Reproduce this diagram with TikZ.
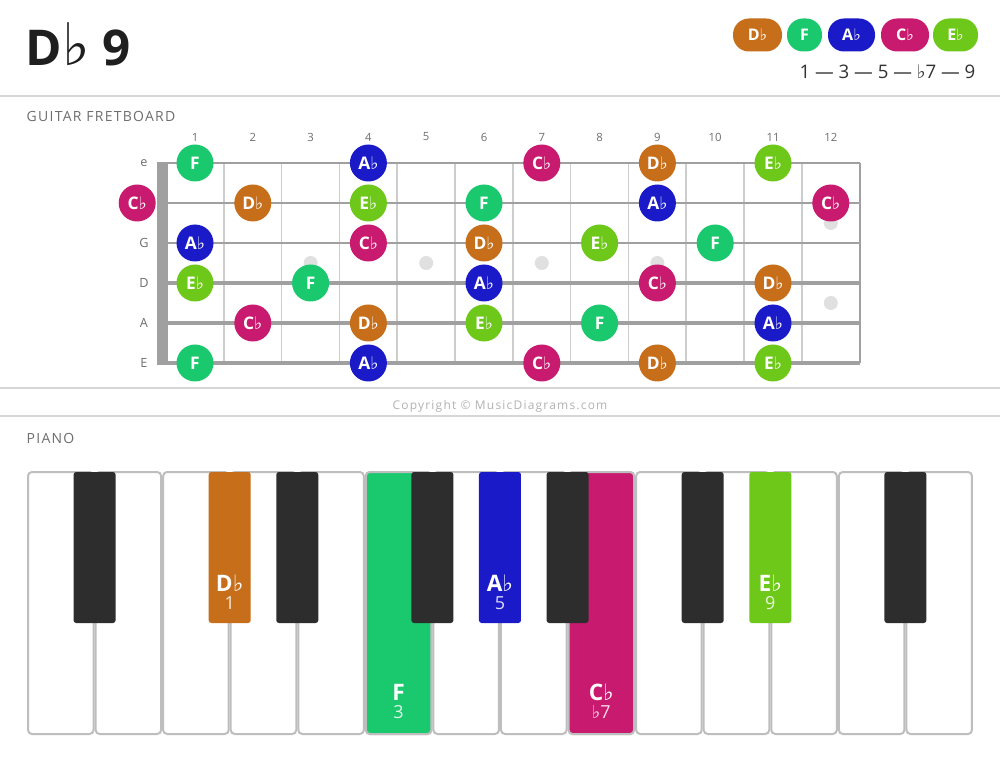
\documentclass[tikz,border=0pt]{standalone}
\usepackage{fontspec}
\setmainfont{Open Sans}
\newfontfamily\flatfont{DejaVu Sans}
\usetikzlibrary{positioning}

\definecolor{dflat}{RGB}{198,110,26}
\definecolor{fnat}{RGB}{26,200,110}
\definecolor{aflat}{RGB}{26,26,200}
\definecolor{cflat}{RGB}{200,26,110}
\definecolor{eflat}{RGB}{110,200,26}
\definecolor{rulegray}{RGB}{214,214,214}
\definecolor{stringgray}{RGB}{160,160,160}
\definecolor{fretgray}{RGB}{205,205,205}
\definecolor{dotgray}{RGB}{224,224,224}
\definecolor{labelgray}{RGB}{110,110,110}
\definecolor{bkey}{RGB}{45,45,45}
\definecolor{keyedge}{RGB}{190,190,190}

\newcommand{\fl}{{\flatfont\mdseries ♭}}

\begin{document}
\begin{tikzpicture}[x=0.75pt,y=-0.75pt,
  note/.style={circle,minimum size=27.75pt,inner sep=0pt,text=white,font=\bfseries\fontsize{13}{13}\selectfont},
  pill/.style={rounded corners=12pt,minimum height=24.75pt,inner sep=0pt,text=white,font=\bfseries\fontsize{12}{12}\selectfont},
  section/.style={anchor=base west,text=labelgray,font=\fontsize{10.5}{10.5}\selectfont\addfontfeatures{LetterSpace=9}},
  fretnum/.style={text=labelgray,font=\fontsize{8.5}{8.5}\selectfont},
  strname/.style={text=labelgray,font=\fontsize{9.5}{9.5}\selectfont},
  wkey/.style={draw=keyedge,line width=1.5pt,rounded corners=3pt},
  keyname/.style={text=white,font=\bfseries\fontsize{17}{17}\selectfont},
  keynum/.style={text=white,opacity=0.85,font=\fontsize{13.5}{13.5}\selectfont}]

  \useasboundingbox[fill=white] (0,0) rectangle (1000,759);

  % header
  \node[anchor=base west,text=black!88,font=\bfseries\fontsize{37}{37}\selectfont] (title) at (21,66) {D{\flatfont\mdseries\fontsize{44}{44}\selectfont ♭}\ 9};
  \foreach \n/\c/\x/\w in {D\fl/dflat/757.5/49, F/fnat/804.5/35, A\fl/aflat/851.5/47, C\fl/cflat/905/48, E\fl/eflat/955.5/45}
    \node[pill,fill=\c,minimum width=\w*0.75pt] (p\c) at (\x,35) {\n};
  \node[anchor=east,text=black!80,font=\fontsize{14}{14}\selectfont] (steps) at (980,72) {1 — 3 — 5 — \fl7 — 9};

  \draw[rulegray,line width=1.5pt] (0,96) -- (1000,96);
  \draw[rulegray,line width=1.5pt] (0,388) -- (1000,388);
  \draw[rulegray,line width=1.5pt] (0,416) -- (1000,416);
  \node[text=black!30,font=\fontsize{9}{9}\selectfont\addfontfeatures{LetterSpace=10}] (copy) at (500,406) {Copyright © MusicDiagrams.com};

  % fretboard
  \node[section] (gtr) at (22,122) {GUITAR FRETBOARD};
  \foreach \f in {1,...,12}
    \node[fretnum] (fn\f) at ({195+(\f-1)*57.8},137) {\f};
  \foreach \f in {1,...,11}
    \draw[fretgray,line width=1.2pt] ({166+\f*57.8},163) -- ({166+\f*57.8},363);
  \draw[stringgray,line width=1.2pt] (860,163) -- (860,363);
  \foreach \f/\y in {3/263,5/263,7/263,9/263,12/223,12/303}
    \fill[dotgray] ({195+(\f-1)*57.8},\y) circle (7);
  \foreach \s/\w in {0/1.5,1/1.7,2/2.0,3/2.3,4/2.6,5/3.0}
    \draw[stringgray,line width=\w pt] (157,{163+40*\s}) -- (860,{163+40*\s});
  \fill[stringgray] (157,162) rectangle (168,365);
  \foreach \s/\l in {0/e,2/G,3/D,4/A,5/E}
    \node[strname] (s\l) at (144,{163+40*\s}) {\l};

  \foreach \s/\f/\n/\c in {
      0/1/F/fnat, 0/4/A\fl/aflat, 0/7/C\fl/cflat, 0/9/D\fl/dflat, 0/11/E\fl/eflat,
      1/0/C\fl/cflat, 1/2/D\fl/dflat, 1/4/E\fl/eflat, 1/6/F/fnat, 1/9/A\fl/aflat, 1/12/C\fl/cflat,
      2/1/A\fl/aflat, 2/4/C\fl/cflat, 2/6/D\fl/dflat, 2/8/E\fl/eflat, 2/10/F/fnat,
      3/1/E\fl/eflat, 3/3/F/fnat, 3/6/A\fl/aflat, 3/9/C\fl/cflat, 3/11/D\fl/dflat,
      4/2/C\fl/cflat, 4/4/D\fl/dflat, 4/6/E\fl/eflat, 4/8/F/fnat, 4/11/A\fl/aflat,
      5/1/F/fnat, 5/4/A\fl/aflat, 5/7/C\fl/cflat, 5/9/D\fl/dflat, 5/11/E\fl/eflat}
    \node[note,fill=\c] (n\s-\f) at ({195+(\f-1)*57.8},{163+40*\s}) {\n};

  % piano
  \node[section] (pno) at (22,443) {PIANO};
  \foreach \k in {0,...,13}
    \draw[wkey,fill=white] ({27+\k*67.57+1},472) rectangle ({27+(\k+1)*67.57-1},734);
  \draw[wkey,fill=fnat] ({27+5*67.57+1},472) rectangle ({27+6*67.57-1},734);
  \draw[wkey,fill=cflat] ({27+8*67.57+1},472) rectangle ({27+9*67.57-1},734);
  \foreach \j/\c in {1/bkey,3/dflat,4/bkey,6/bkey,7/aflat,8/bkey,10/bkey,11/eflat,13/bkey}
    \fill[\c,rounded corners=2pt] ({27+\j*67.57-21},472) rectangle ({27+\j*67.57+21},623);

  \node[keyname] (kDb) at ({27+3*67.57},583) {D\fl};
  \node[keynum,below=-3pt of kDb] (iDb) {1};
  \node[keyname] (kAb) at ({27+7*67.57},583) {A\fl};
  \node[keynum,below=-3pt of kAb] (iAb) {5};
  \node[keyname] (kEb) at ({27+11*67.57},583) {E\fl};
  \node[keynum,below=-3pt of kEb] (iEb) {9};
  \node[keyname] (kF) at ({27+5.5*67.57},692) {F};
  \node[keynum,below=-3pt of kF] (iF) {3};
  \node[keyname] (kCb) at ({27+8.5*67.57},692) {C\fl};
  \node[keynum,below=-3pt of kCb] (iCb) {\fl7};
\end{tikzpicture}
\end{document}
